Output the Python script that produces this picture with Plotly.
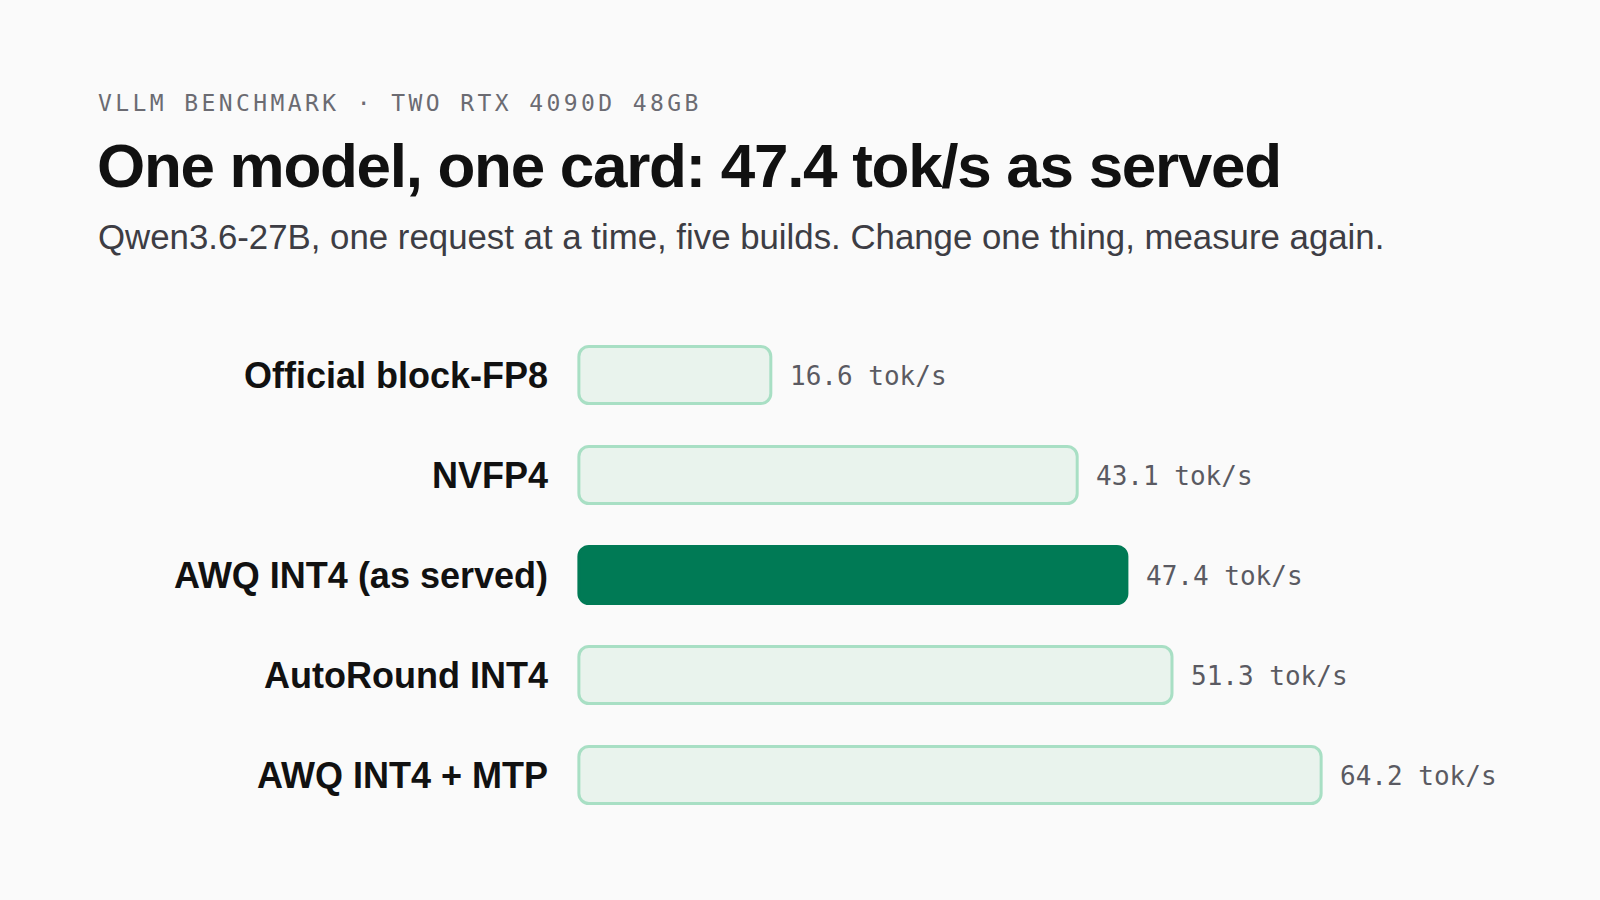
import plotly.graph_objects as go

# Data
builds  = ["Official block-FP8", "NVFP4", "AWQ INT4 (as served)", "AutoRound INT4", "AWQ INT4 + MTP"]
tok_s   = [16.6, 43.1, 47.4, 51.3, 64.2]
served  = "AWQ INT4 (as served)"
unit    = "tok/s"

kicker   = "VLLM BENCHMARK · TWO RTX 4090D 48GB"
title    = "One model, one card: 47.4 tok/s as served"
subtitle = "Qwen3.6-27B, one request at a time, five builds. Change one thing, measure again."

# Page geometry (px)
W, H = 1600, 900
PX_PER_UNIT = 11.56
X_PAD = 0.25                      # a little room left of zero so the bar outline is not clipped
ZERO_X = 579                      # page x of value 0
M_L = ZERO_X - X_PAD * PX_PER_UNIT
M_R, M_T, M_B = 96, 325, 75
plot_w = W - M_L - M_R
plot_h = H - M_T - M_B

BG        = "#fafafa"
DARK      = "#007a55"
LIGHT     = "#e9f3ed"
LIGHT_LN  = "#a8dfc4"
MONO      = "DejaVu Sans Mono"
SANS      = "Liberation Sans"

fill  = [DARK if b == served else LIGHT for b in builds]
lines = [DARK if b == served else LIGHT_LN for b in builds]

fig = go.Figure()
# explicit base so both ends of each bar get the rounded corners
fig.add_trace(go.Bar(
    x=tok_s, base=[0] * len(tok_s), y=builds, orientation="h", width=0.57,
    marker=dict(color=fill, line=dict(color=lines, width=3), cornerradius=10),
    hoverinfo="skip",
))

# value labels just past each bar end
for b, v in zip(builds, tok_s):
    fig.add_annotation(x=v, y=b, xref="x", yref="y",
                       text=f"{v:.1f} {unit}", showarrow=False,
                       xanchor="left", yanchor="middle", xshift=17, yshift=-1,
                       font=dict(family=MONO, size=26, color="#5a5a62"))

def px_x(px):   # page px -> paper x
    return (px - M_L) / plot_w

def px_y(px):   # page px (from top) -> paper y
    return (H - M_B - px) / plot_h

fig.add_annotation(x=px_x(96), y=px_y(103), xref="paper", yref="paper",
                   text=f'<span style="letter-spacing:3.4px">{kicker}</span>',
                   showarrow=False, xanchor="left", yanchor="middle",
                   font=dict(family=MONO, size=23, color="#6b6b72"))
fig.add_annotation(x=px_x(95), y=px_y(166), xref="paper", yref="paper",
                   text=f'<span style="letter-spacing:-1.3px">{title}</span>',
                   showarrow=False, xanchor="left", yanchor="middle",
                   font=dict(family=SANS, size=62, color="#111111", weight=700))
fig.add_annotation(x=px_x(96), y=px_y(236), xref="paper", yref="paper",
                   text=subtitle, showarrow=False, xanchor="left", yanchor="middle",
                   font=dict(family=SANS, size=34.8, color="#3d3d44"))

fig.update_xaxes(range=[-X_PAD, plot_w / PX_PER_UNIT - X_PAD], visible=False, fixedrange=True)
fig.update_yaxes(autorange="reversed", showgrid=False, zeroline=False, showline=False,
                 ticks="", ticklabelstandoff=27,
                 tickfont=dict(family=SANS, size=36, color="#111111", weight=700),
                 fixedrange=True)

fig.update_layout(width=W, height=H,
                  margin=dict(l=M_L, r=M_R, t=M_T, b=M_B, pad=0),
                  paper_bgcolor=BG, plot_bgcolor=BG,
                  showlegend=False, barmode="overlay")

fig.write_html("out.html", config={"displayModeBar": False},
               post_script="document.body.style.margin='0';")
